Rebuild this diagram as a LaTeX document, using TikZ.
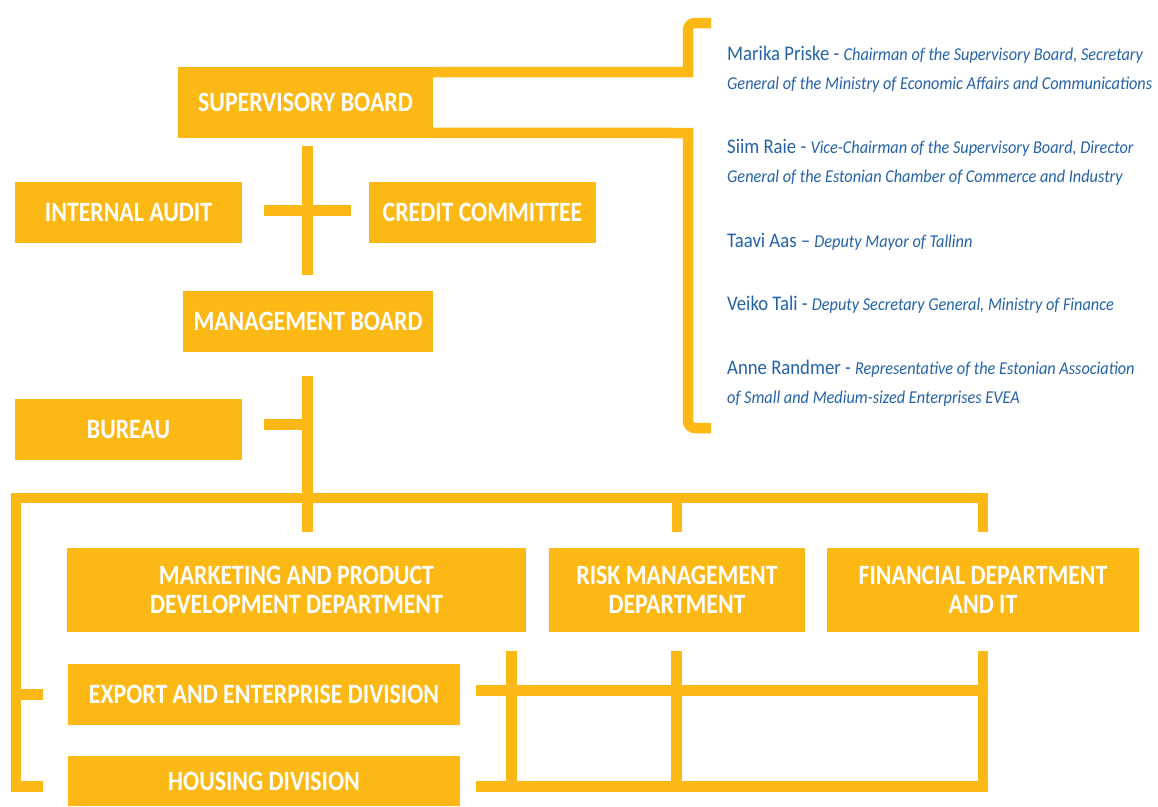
\documentclass[tikz,border=0pt]{standalone}
\usepackage{fontspec}
\setmainfont{Carlito}
\newfontfamily\unitfont[FakeStretch=0.85]{Carlito}
\newfontfamily\memberfont[FakeStretch=0.9]{Carlito}
\definecolor{kredexyellow}{HTML}{FCB814}
\definecolor{kredexblue}{HTML}{2462A8}
\newcommand{\membrole}[1]{{\itshape\fontsize{18.1}{29}\selectfont #1}}

\begin{document}
\begin{tikzpicture}[x=1pt,y=-1pt,
		unit/.style={fill=kredexyellow,text=white,inner sep=0pt,align=center,
			font=\unitfont\bfseries\fontsize{28}{29}\selectfont},
		link/.style={draw=kredexyellow,line width=10.5pt},
		member/.style={anchor=base west,inner sep=0pt,align=left,text=kredexblue,
			font=\memberfont\fontsize{20.8}{29}\selectfont}]
	\useasboundingbox (0,0) rectangle (1158,806);
	% boards
	\node[unit,minimum width=255,minimum height=71] (supervisory) at (305.5,102.5) {SUPERVISORY BOARD};
	\node[unit,minimum width=227,minimum height=61] (audit) at (128.5,212.5) {INTERNAL AUDIT};
	\node[unit,minimum width=227,minimum height=61] (credit) at (482.5,212.5) {CREDIT COMMITTEE};
	\node[unit,minimum width=250,minimum height=61] (management) at (308,321.5) {MANAGEMENT BOARD};
	\node[unit,minimum width=227,minimum height=61] (bureau) at (128.5,429.5) {BUREAU};
	% departments and divisions
	\node[unit,minimum width=459,minimum height=84] (marketing) at (296.5,590) {MARKETING AND PRODUCT\\DEVELOPMENT DEPARTMENT};
	\node[unit,minimum width=256,minimum height=84] (risk) at (677,590) {RISK MANAGEMENT\\DEPARTMENT};
	\node[unit,minimum width=312,minimum height=84] (financial) at (983,590) {FINANCIAL DEPARTMENT\\AND IT};
	\node[unit,minimum width=392,minimum height=61] (export) at (264,694.5) {EXPORT AND ENTERPRISE DIVISION};
	\node[unit,minimum width=392,minimum height=50] (housing) at (264,781) {HOUSING DIVISION};
	% supervisory board members (base = last line)
	\node[member] (priske) at (727,89) {Marika Priske - \membrole{Chairman of the Supervisory Board, Secretary}\\\membrole{General of the Ministry of Economic Affairs and Communications}};
	\node[member] (raie) at (727,182) {Siim Raie - \membrole{Vice-Chairman of the Supervisory Board, Director}\\\membrole{General of the Estonian Chamber of Commerce and Industry}};
	\node[member] (aas) at (727,247) {Taavi Aas – \membrole{Deputy Mayor of Tallinn}};
	\node[member] (tali) at (727,310) {Veiko Tali - \membrole{Deputy Secretary General, Ministry of Finance}};
	\node[member] (randmer) at (727,403) {Anne Randmer - \membrole{Representative of the Estonian Association}\\\membrole{of Small and Medium-sized Enterprises EVEA}};
	% junctions
	\coordinate (bracketmid) at (688,72);
	\coordinate (bracketlow) at (688,133);
	\coordinate (crossN) at (307.5,146);
	\coordinate (crossS) at (307.5,275);
	\coordinate (crossW) at (264,210.5);
	\coordinate (crossE) at (351,210.5);
	\coordinate (trunk) at (307.5,376);
	\coordinate (busL) at (16,498);
	\coordinate (busR) at (983,498);
	\coordinate (gridL) at (476,690.5);
	\coordinate (gridR) at (983,690.5);
	\coordinate (gridBL) at (476,786.5);
	\coordinate (gridBR) at (983,786.5);
	% bracket round the members
	\draw[link] ([yshift=-5.25pt]supervisory.north east) -- (bracketmid) [rounded corners=7pt] -- (688,23) -- (711,23);
	\draw[link] ([yshift=5.25pt]supervisory.south east) -- (bracketlow) [rounded corners=7pt] -- (688,428) -- (711,428);
	% upper links
	\draw[link] (crossN) -- (crossS);
	\draw[link] (crossW) -- (crossE);
	\draw[link] (trunk) -- (307.5,532);
	\draw[link] (264,424.5) -- (trunk |- 0,424.5);
	\draw[link] (42.5,786.5) -- (16,786.5) -- (busL) -- (busR) -- (983,532);
	\draw[link] (16,694.5) -- (42.5,694.5);
	\draw[link] (677,498) -- (677,532);
	% lower grid
	\draw[link] (gridL) -- (gridR);
	\draw[link] (gridBL) -- (gridBR) -- (983,651);
	\draw[link] (511.5,651) -- (511.5,792);
	\draw[link] (676.5,651) -- (676.5,792);
\end{tikzpicture}
\end{document}
